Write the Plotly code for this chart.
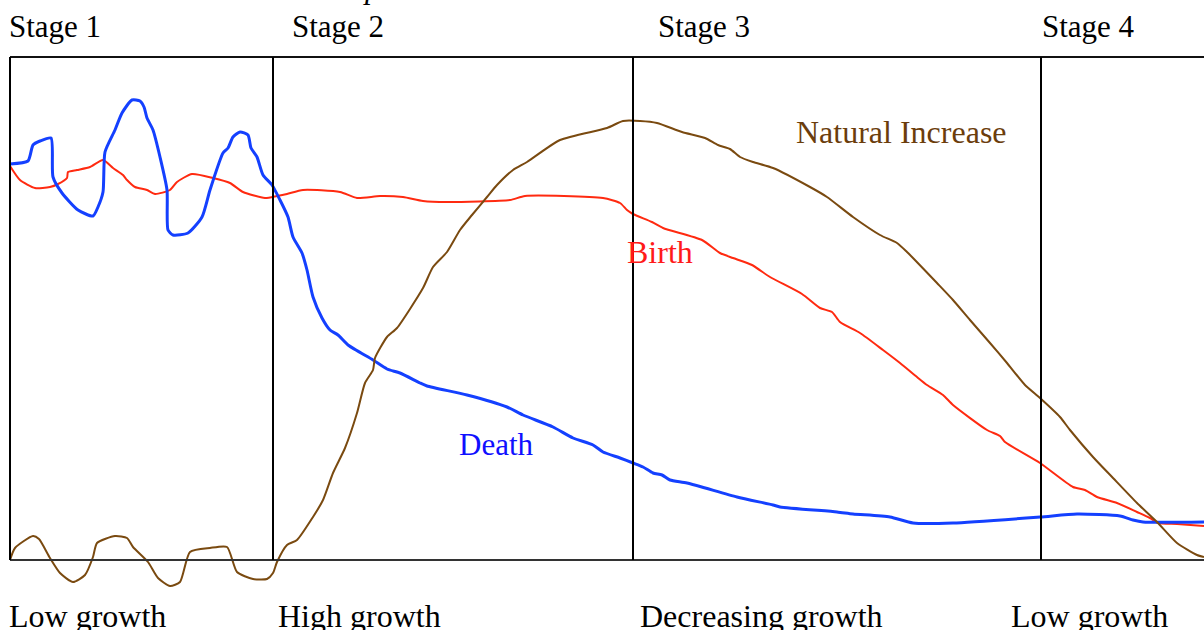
import plotly.graph_objects as go

# ---- data (time index, rate) ----
death_t = [0, 18, 23, 30, 41, 43, 52, 68, 83, 88, 93, 95, 105, 112, 122, 130, 134, 137, 143, 150,
           157, 158, 163, 178, 192, 200, 213, 218, 223, 230, 238, 241, 247, 253, 262, 270, 278, 283,
           292, 297, 303, 312, 320, 328, 338, 363, 377, 390, 410, 417, 457, 497, 513, 543, 563, 583,
           593, 610, 623, 633, 643, 652, 660, 677, 727, 763, 770, 827, 843, 880, 903, 943, 1030,
           1067, 1110, 1123, 1133, 1194]
death_v = [396, 399, 415, 419, 422, 383, 367, 350, 344, 353, 368, 408, 430, 447, 460, 459, 453, 442,
           430, 403, 370, 330, 325, 327, 343, 370, 407, 412, 423, 428, 425, 412, 403, 385, 375, 360,
           343, 323, 307, 290, 263, 242, 230, 225, 215, 200, 191, 187, 177, 174, 165, 153, 145, 133,
           122, 115, 108, 102, 97, 93, 87, 85, 80, 77, 63, 55, 53, 48, 46, 43, 37, 37, 43, 46, 44,
           40, 38, 38]

birth_t = [0, 10, 25, 40, 48, 57, 58, 67, 80, 93, 103, 113, 117, 125, 137, 145, 160, 167, 182, 203,
           220, 233, 255, 267, 277, 293, 330, 347, 370, 393, 413, 437, 500, 515, 593, 610, 617, 623,
           642, 653, 692, 710, 723, 742, 760, 792, 810, 822, 830, 850, 873, 890, 907, 917, 933, 943,
           977, 990, 995, 1030, 1063, 1075, 1087, 1107, 1127, 1140, 1148, 1167, 1194]
birth_v = [394, 380, 372, 373, 376, 382, 388, 390, 393, 400, 392, 385, 380, 373, 370, 366, 370, 378,
           386, 382, 377, 368, 362, 364, 366, 370, 368, 362, 364, 363, 359, 358, 360, 364, 362, 357,
           350, 346, 338, 332, 320, 307, 302, 295, 283, 266, 252, 248, 238, 227, 210, 197, 183, 175,
           165, 155, 130, 124, 118, 97, 73, 70, 63, 57, 48, 42, 37, 36, 34]

ni_t = [0, 5, 23, 29, 40, 50, 63, 75, 83, 87, 105, 117, 123, 138, 148, 160, 170, 180, 200, 217, 227,
        243, 257, 263, 267, 277, 287, 303, 313, 323, 335, 347, 355, 363, 365, 377, 387, 413, 423,
        437, 450, 462, 477, 487, 503, 517, 550, 597, 613, 630, 647, 672, 695, 708, 720, 730, 743,
        763, 800, 817, 843, 870, 887, 897, 903, 927, 943, 960, 980, 997, 1015, 1030, 1050, 1060,
        1083, 1103, 1127, 1147, 1167, 1187, 1194]
ni_v = [0, 12, 24, 21, 2, -13, -22, -15, 3, 17, 24, 22, 13, -2, -18, -26, -22, 8, 12, 13, -12, -19,
        -19, -13, -2, 15, 20, 43, 60, 87, 112, 147, 177, 190, 202, 223, 232, 272, 293, 308, 330,
        345, 363, 375, 390, 398, 420, 432, 439, 439, 437, 428, 422, 415, 411, 403, 398, 392, 373,
        363, 343, 325, 317, 308, 302, 277, 260, 240, 217, 197, 175, 162, 143, 130, 103, 82, 57, 38,
        17, 5, 3]

stage_bounds = [0, 263, 623, 1031]
x_end = 1194
top_v = 503

stage_labels = ["Stage 1", "Stage 2", "Stage 3", "Stage 4"]
stage_label_t = [-3, 280, 646, 1030]
growth_labels = ["Low growth", "High growth", "Decreasing growth", "Low growth"]
growth_label_t = [-3, 266, 628, 999]

SERIF = "Liberation Serif, Times New Roman, serif"
BLUE = "#1440ff"
RED = "#ff2a10"
BROWN = "#7a4a10"

fig = go.Figure()
fig.add_trace(go.Scatter(x=birth_t, y=birth_v, mode="lines",
                         line=dict(color=RED, width=2, shape="spline", smoothing=0.6),
                         hoverinfo="skip"))
fig.add_trace(go.Scatter(x=death_t, y=death_v, mode="lines",
                         line=dict(color=BLUE, width=3, shape="spline", smoothing=0.6),
                         hoverinfo="skip"))
fig.add_trace(go.Scatter(x=ni_t, y=ni_v, mode="lines",
                         line=dict(color=BROWN, width=2, shape="spline", smoothing=0.6),
                         hoverinfo="skip"))

# frame
fig.add_shape(type="line", x0=0, x1=x_end + 20, y0=top_v, y1=top_v, line=dict(color="#111", width=2))
fig.add_shape(type="line", x0=0, x1=x_end + 20, y0=0, y1=0, line=dict(color="#333", width=2))
for b in stage_bounds:
    fig.add_shape(type="line", x0=b, x1=b, y0=0, y1=top_v, line=dict(color="#000", width=2))

for lab, t in zip(stage_labels, stage_label_t):
    fig.add_annotation(x=t, y=534, text=lab, showarrow=False, xanchor="left", yanchor="middle",
                       font=dict(family=SERIF, size=31, color="#000"))
for lab, t in zip(growth_labels, growth_label_t):
    fig.add_annotation(x=t, y=-56, text=lab, showarrow=False, xanchor="left", yanchor="middle",
                       font=dict(family=SERIF, size=32, color="#000"))

fig.add_annotation(x=784, y=428, text="Natural Increase", showarrow=False, xanchor="left",
                   yanchor="middle", font=dict(family=SERIF, size=32, color="#6b3d0c"))
fig.add_annotation(x=615, y=308, text="Birth", showarrow=False, xanchor="left",
                   yanchor="middle", font=dict(family=SERIF, size=32, color="#ff1a1a"))
fig.add_annotation(x=447, y=116, text="Death", showarrow=False, xanchor="left",
                   yanchor="middle", font=dict(family=SERIF, size=31, color="#1010ff"))
# clipped italic fragment at the very top of the page
fig.add_annotation(x=372 / 1204, y=1, xref="paper", yref="paper", text="<i>p</i>",
                   showarrow=False, xanchor="center", yanchor="bottom", yshift=-7,
                   font=dict(family=SERIF, size=31, color="#000"))

fig.update_layout(
    width=1204, height=630,
    margin=dict(l=0, r=0, t=0, b=0),
    paper_bgcolor="white", plot_bgcolor="white",
    showlegend=False,
    xaxis=dict(range=[-10, 1194], visible=False, fixedrange=True),
    yaxis=dict(range=[-70, 560], visible=False, fixedrange=True),
)

fig.write_html("out.html", config={"displayModeBar": False},
               post_script="document.body.style.margin='0';document.body.style.overflow='hidden';")
